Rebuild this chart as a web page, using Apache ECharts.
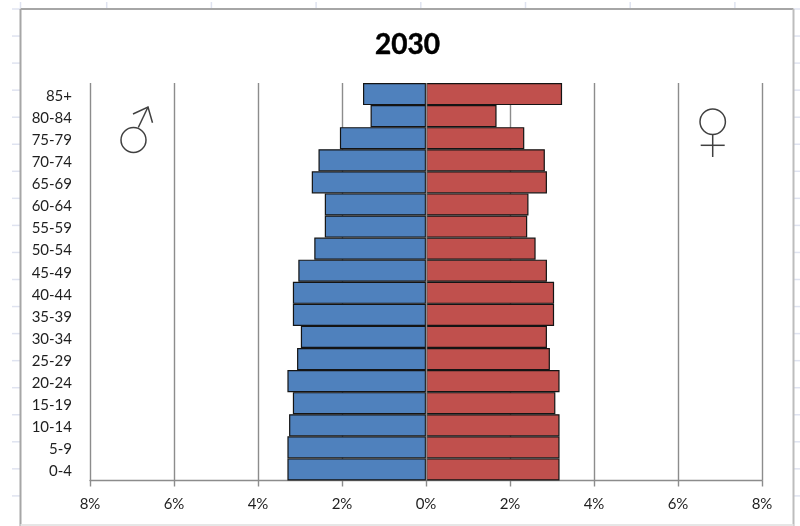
<!DOCTYPE html>
<html>
<head>
<meta charset="utf-8">
<title>Population pyramid 2030</title>
<style>
  html, body { margin: 0; padding: 0; background: #ffffff; }
  #chart { width: 800px; height: 526px; }
</style>
<script src="https://cdn.jsdelivr.net/npm/echarts@6/dist/echarts.min.js"></script>
</head>
<body>
<div id="chart"></div>
<script>
// Age groups, youngest first so that 0-4 sits at the bottom of the pyramid
const ageGroups = ['0-4','5-9','10-14','15-19','20-24','25-29','30-34','35-39','40-44',
                   '45-49','50-54','55-59','60-64','65-69','70-74','75-79','80-84','85+'];
// Share of the population in percent
const malePercent   = [3.30,3.30,3.26,3.17,3.30,3.07,2.98,3.17,3.17,3.04,2.66,2.41,2.41,2.72,2.56,2.05,1.32,1.50];
const femalePercent = [3.18,3.18,3.18,3.08,3.18,2.95,2.88,3.05,3.05,2.88,2.61,2.41,2.44,2.88,2.83,2.34,1.68,3.24];
const chartTitle = '2030';
const axisMin = -8, axisMax = 8, axisStep = 2;

const FONT = 'Lato, "Open Sans", sans-serif';
const GRID_GREY = '#8c8c8c';
const SYMBOL_INK = '#404040';

// Worksheet cell lines peeking out around the chart frame
const sheetLine = { stroke: '#dfe3f0', lineWidth: 1.5 };
const decor = [];
for (let i = 0; i < 19; i++) {
  const y = 9 + 27.05 * i;
  decor.push({ type: 'line', silent: true, shape: { x1: 12, y1: y, x2: 20, y2: y }, style: sheetLine });
  decor.push({ type: 'line', silent: true, shape: { x1: 794, y1: y, x2: 800, y2: y }, style: sheetLine });
}
[20.5, 106.7, 211.4, 316.1, 420.8, 525.5, 630.2, 734.9].forEach(x => {
  decor.push({ type: 'line', silent: true, shape: { x1: x, y1: 2, x2: x, y2: 8 }, style: sheetLine });
});

// Chart frame
const frame = [
  { x1: 20.5, y1: 9, x2: 793.5, y2: 9, c: '#a6a6a6' },
  { x1: 20.5, y1: 9, x2: 20.5, y2: 526, c: '#a6a6a6' },
  { x1: 793.5, y1: 9, x2: 793.5, y2: 526, c: '#bdbdbd' },
  { x1: 20.5, y1: 525, x2: 793.5, y2: 525, c: '#e6e6e6' }
];
frame.forEach(f => decor.push({
  type: 'line', silent: true,
  shape: { x1: f.x1, y1: f.y1, x2: f.x2, y2: f.y2 },
  style: { stroke: f.c, lineWidth: 2 }
}));

// Male and female signs
const ink = { stroke: SYMBOL_INK, lineWidth: 1.5, fill: null };
[
  { type: 'circle', shape: { cx: 133.5, cy: 140, r: 12.5 } },
  { type: 'line', shape: { x1: 138.3, y1: 127.5, x2: 148, y2: 107 } },
  { type: 'polyline', shape: { points: [[133, 114], [148, 107], [152.5, 122.7]] } },
  { type: 'circle', shape: { cx: 712.7, cy: 121.7, r: 12.7 } },
  { type: 'line', shape: { x1: 712.7, y1: 134.5, x2: 712.7, y2: 157 } },
  { type: 'line', shape: { x1: 700.7, y1: 145.3, x2: 724.7, y2: 145.3 } }
].forEach(s => decor.push(Object.assign({ silent: true, z: 10, style: ink }, s)));

const barBorder = { borderColor: '#141414', borderWidth: 1.2 };

const chart = echarts.init(document.getElementById('chart'), null, { renderer: 'canvas' });
chart.setOption({
  animation: false,
  backgroundColor: '#ffffff',
  title: {
    text: chartTitle,
    left: 402.5,
    top: 26,
    textAlign: 'center',
    textStyle: { fontFamily: FONT, fontSize: 28, fontWeight: 'bold', color: '#000000', textBorderColor: '#000000', textBorderWidth: 0.5 }
  },
  grid: { left: 90, right: 38, top: 83, bottom: 45.5 },
  xAxis: {
    type: 'value',
    min: axisMin,
    max: axisMax,
    interval: axisStep,
    axisLine: { show: true, onZero: false, lineStyle: { color: GRID_GREY, width: 1.4 } },
    axisTick: { show: true, length: 6, lineStyle: { color: GRID_GREY, width: 1.4 } },
    axisLabel: {
      margin: 16,
      fontFamily: FONT,
      fontSize: 15,
      color: '#1f1f1f',
      formatter: v => Math.abs(v) + '%'
    },
    splitLine: { show: true, lineStyle: { color: GRID_GREY, width: 1.4 } }
  },
  yAxis: {
    type: 'category',
    data: ageGroups,
    axisLine: { show: false },
    axisTick: { show: false },
    // A short line box under the tick position sets the labels slightly below band centre
    axisLabel: { margin: 18, verticalAlign: 'top', lineHeight: 4, fontFamily: FONT, fontSize: 15, color: '#1f1f1f', interval: 0 }
  },
  series: [
    {
      name: 'Male',
      type: 'bar',
      stack: 'pyramid',
      barCategoryGap: 0,
      data: malePercent.map(v => -v),
      itemStyle: Object.assign({ color: '#4f81bd' }, barBorder),
      // Vertical axis through zero, drawn on top of the bars
      markLine: {
        silent: true,
        symbol: 'none',
        label: { show: false },
        lineStyle: { color: GRID_GREY, width: 1.4, type: 'solid' },
        data: [{ xAxis: 0 }],
        z: 6
      }
    },
    {
      name: 'Female',
      type: 'bar',
      stack: 'pyramid',
      barCategoryGap: 0,
      data: femalePercent,
      itemStyle: Object.assign({ color: '#c0504d' }, barBorder)
    }
  ],
  graphic: { elements: decor }
});
</script>
</body>
</html>
